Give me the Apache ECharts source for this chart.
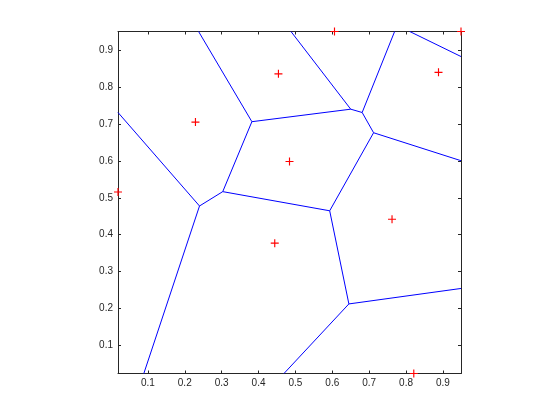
<!DOCTYPE html>
<html><head><meta charset="utf-8">
<script src="https://cdn.jsdelivr.net/npm/echarts@6/dist/echarts.min.js"></script>
<style>html,body{margin:0;padding:0;background:#fff}#c{width:560px;height:420px}</style>
</head><body><div id="c"></div>
<script>
// Voronoi sites (red + markers)
const siteX = [0.019, 0.229, 0.454, 0.484, 0.888, 0.762, 0.444, 0.821, 0.606, 0.949];
const siteY = [0.516, 0.706, 0.837, 0.599, 0.841, 0.442, 0.377, 0.023, 0.952, 0.952];
// Voronoi vertices and edge end points at the axes border
const vertX = [0.240, 0.303, 0.382, 0.650, 0.681, 0.712, 0.593, 0.645, 0.019, 0.089, 0.2375, 0.488, 0.769, 0.810, 0.949, 0.949, 0.949, 0.469];
const vertY = [0.478, 0.517, 0.707, 0.741, 0.732, 0.677, 0.465, 0.212, 0.732, 0.023, 0.952, 0.952, 0.952, 0.952, 0.884, 0.601, 0.254, 0.023];
// edges as pairs of vertex indices
const edgeFrom = [8, 0, 0, 1, 2, 2, 3, 3, 4, 4, 13, 5, 5, 6, 6, 7, 7];
const edgeTo   = [0, 9, 1, 2, 10, 3, 11, 4, 12, 5, 14, 15, 6, 1, 7, 16, 17];
// tick labels
const xTicks = [0.1, 0.2, 0.3, 0.4, 0.5, 0.6, 0.7, 0.8, 0.9];
const yTicks = [0.1, 0.2, 0.3, 0.4, 0.5, 0.6, 0.7, 0.8, 0.9];

const xMin = Math.min(...siteX), xMax = Math.max(...siteX);
const yMin = Math.min(...siteY), yMax = Math.max(...siteY);

const axisCol = '#262626';
const font = 'Liberation Sans, Helvetica, Arial, sans-serif';

function mkAxis(pos, ticks, min, max, labels) {
  return {
    type: 'value', position: pos, min: min, max: max,
    axisLine: {show: true, onZero: false, lineStyle: {color: axisCol, width: 1}},
    axisTick: {show: true, inside: true, length: 3, customValues: ticks, lineStyle: {color: axisCol, width: 1}},
    axisLabel: {show: labels, customValues: ticks, color: axisCol, fontSize: 10, fontFamily: font,
      margin: (pos === 'bottom') ? 5 : 5,
      formatter: v => (Math.round(v * 10) / 10).toFixed(1)},
    splitLine: {show: false}
  };
}

const edgeData = edgeFrom.map((a, i) => ({
  coords: [[vertX[a], vertY[a]], [vertX[edgeTo[i]], vertY[edgeTo[i]]]]
}));
const siteData = siteX.map((x, i) => [x, siteY[i]]);

const chart = echarts.init(document.getElementById('c'), null, {renderer: 'canvas'});
chart.setOption({
  animation: false,
  backgroundColor: '#ffffff',
  grid: {left: 118, top: 31.5, width: 343, height: 342, containLabel: false},
  xAxis: [mkAxis('bottom', xTicks, xMin, xMax, true), mkAxis('top', xTicks, xMin, xMax, false)],
  yAxis: [mkAxis('left', yTicks, yMin, yMax, true), mkAxis('right', yTicks, yMin, yMax, false)],
  series: [
    {
      type: 'lines', coordinateSystem: 'cartesian2d', xAxisIndex: 0, yAxisIndex: 0,
      polyline: false, silent: true,
      lineStyle: {color: '#0000ff', width: 1, opacity: 1, curveness: 0},
      data: edgeData
    },
    {
      type: 'scatter', xAxisIndex: 0, yAxisIndex: 0, clip: false, silent: true,
      symbol: 'path://M0,3L3,3L3,0L4,0L4,3L7,3L7,4L4,4L4,7L3,7L3,4L0,4Z',
      symbolSize: 8,
      itemStyle: {color: '#ff0000', opacity: 1},
      data: siteData
    }
  ]
});
</script>
</body></html>
